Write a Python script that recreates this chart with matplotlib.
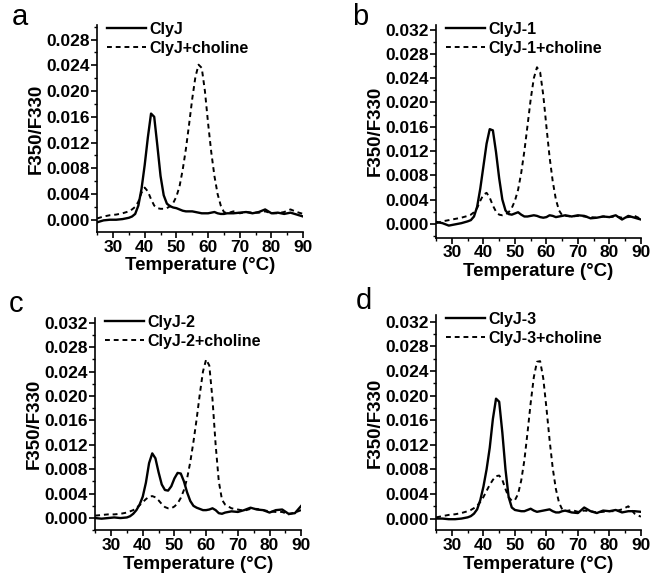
import matplotlib
matplotlib.use("Agg")
import matplotlib.pyplot as plt
from matplotlib.ticker import MultipleLocator, FormatStrFormatter

plt.rcParams['font.family'] = ['Liberation Sans', 'DejaVu Sans']

# temperature grid (deg C)
temps = [25, 27, 29, 31, 33, 35, 36, 37, 38, 39, 40, 41, 42, 43, 44, 45, 46, 47, 48, 49,
         50, 51, 52, 53, 54, 55, 56, 57, 58, 59, 60, 61, 62, 63, 64, 65, 66,
         68, 70, 72, 74, 76, 78, 80, 82, 84, 86, 88, 90]

clyj = [-0.0004, -0.0001, 0.0000, 0.0000, 0.0001, 0.0003, 0.0005, 0.0009, 0.0022, 0.0048,
        0.0085, 0.0128, 0.0165, 0.0160, 0.0115, 0.0068, 0.0038, 0.0025, 0.0021, 0.0019,
        0.0018, 0.0016, 0.0014, 0.0013, 0.0013, 0.0013, 0.0012, 0.0011, 0.0010, 0.0010,
        0.0010, 0.0011, 0.0012, 0.0010, 0.0009, 0.0009, 0.0010,
        0.0010, 0.0011, 0.0012, 0.0010, 0.0012, 0.0016, 0.0010, 0.0011, 0.0009, 0.0011, 0.0008, 0.0005]
clyj_ch = [0.0002, 0.0005, 0.0007, 0.0008, 0.0010, 0.0013, 0.0016, 0.0020, 0.0028, 0.0042,
           0.0050, 0.0044, 0.0032, 0.0022, 0.0018, 0.0017, 0.0017, 0.0018, 0.0021, 0.0026,
           0.0036, 0.0052, 0.0078, 0.0110, 0.0148, 0.0188, 0.0222, 0.0241, 0.0236, 0.0200,
           0.0150, 0.0105, 0.0068, 0.0040, 0.0022, 0.0012, 0.0010,
           0.0013, 0.0010, 0.0012, 0.0011, 0.0011, 0.0013, 0.0010, 0.0010, 0.0012, 0.0016, 0.0012, 0.0009]

clyj1 = [0.0003, 0.0001, -0.0003, -0.0001, 0.0001, 0.0004, 0.0006, 0.0012, 0.0028, 0.0058,
         0.0095, 0.0132, 0.0156, 0.0154, 0.0118, 0.0075, 0.0040, 0.0022, 0.0016, 0.0015,
         0.0017, 0.0019, 0.0015, 0.0012, 0.0012, 0.0013, 0.0014, 0.0013, 0.0011, 0.0010,
         0.0011, 0.0014, 0.0013, 0.0011, 0.0012, 0.0013, 0.0014,
         0.0012, 0.0014, 0.0013, 0.0009, 0.0010, 0.0012, 0.0011, 0.0014, 0.0007, 0.0013, 0.0010, 0.0007]
clyj1_ch = [0.0001, 0.0004, 0.0006, 0.0008, 0.0010, 0.0013, 0.0015, 0.0019, 0.0026, 0.0038,
            0.0048, 0.0051, 0.0043, 0.0030, 0.0020, 0.0015, 0.0014, 0.0015, 0.0019, 0.0026,
            0.0038, 0.0056, 0.0084, 0.0120, 0.0162, 0.0205, 0.0240, 0.0258, 0.0250, 0.0212,
            0.0160, 0.0110, 0.0070, 0.0040, 0.0022, 0.0014, 0.0013,
            0.0012, 0.0013, 0.0012, 0.0011, 0.0010, 0.0012, 0.0011, 0.0012, 0.0010, 0.0011, 0.0013, 0.0008]

clyj2 = [0.0000, -0.0001, 0.0000, 0.0001, 0.0000, 0.0001, 0.0003, 0.0007, 0.0013, 0.0022,
         0.0035, 0.0058, 0.0090, 0.0106, 0.0098, 0.0075, 0.0055, 0.0046, 0.0045, 0.0052,
         0.0065, 0.0074, 0.0073, 0.0060, 0.0042, 0.0028, 0.0020, 0.0017, 0.0015, 0.0013,
         0.0013, 0.0014, 0.0016, 0.0013, 0.0008, 0.0007, 0.0009,
         0.0011, 0.0010, 0.0013, 0.0017, 0.0014, 0.0013, 0.0009, 0.0013, 0.0014, 0.0007, 0.0008, 0.0020]
clyj2_ch = [0.0004, 0.0005, 0.0006, 0.0006, 0.0007, 0.0009, 0.0011, 0.0013, 0.0017, 0.0021,
            0.0026, 0.0031, 0.0035, 0.0036, 0.0034, 0.0029, 0.0023, 0.0018, 0.0016, 0.0016,
            0.0019, 0.0024, 0.0033, 0.0046, 0.0065, 0.0092, 0.0125, 0.0162, 0.0203, 0.0240,
            0.0260, 0.0250, 0.0195, 0.0120, 0.0060, 0.0030, 0.0022,
            0.0016, 0.0014, 0.0012, 0.0015, 0.0015, 0.0013, 0.0011, 0.0010, 0.0010, 0.0006, 0.0009, 0.0013]

clyj3 = [0.0000, 0.0000, -0.0001, -0.0001, 0.0000, 0.0002, 0.0004, 0.0008, 0.0015, 0.0030,
         0.0052, 0.0080, 0.0115, 0.0162, 0.0195, 0.0190, 0.0140, 0.0080, 0.0035, 0.0018,
         0.0014, 0.0013, 0.0012, 0.0012, 0.0014, 0.0016, 0.0013, 0.0011, 0.0012, 0.0013,
         0.0014, 0.0015, 0.0012, 0.0010, 0.0010, 0.0012, 0.0013,
         0.0010, 0.0009, 0.0018, 0.0012, 0.0009, 0.0013, 0.0012, 0.0014, 0.0010, 0.0012, 0.0012, 0.0011]
clyj3_ch = [0.0002, 0.0004, 0.0006, 0.0007, 0.0009, 0.0012, 0.0014, 0.0017, 0.0021, 0.0027,
            0.0035, 0.0045, 0.0055, 0.0063, 0.0069, 0.0070, 0.0063, 0.0048, 0.0035, 0.0029,
            0.0030, 0.0040, 0.0062, 0.0095, 0.0140, 0.0188, 0.0230, 0.0255, 0.0256, 0.0228,
            0.0180, 0.0128, 0.0082, 0.0048, 0.0026, 0.0015, 0.0012,
            0.0014, 0.0011, 0.0013, 0.0012, 0.0010, 0.0011, 0.0012, 0.0012, 0.0015, 0.0020, 0.0008, 0.0003]

panels = [
    ('a', 'ClyJ', clyj, clyj_ch, [0.149, 0.598, 0.316, 0.359], (-0.0019, 0.0303), 0.028),
    ('b', 'ClyJ-1', clyj1, clyj1_ch, [0.669, 0.588, 0.314, 0.369], (-0.0023, 0.0328), 0.032),
    ('c', 'ClyJ-2', clyj2, clyj2_ch, [0.146, 0.081, 0.316, 0.368], (-0.0020, 0.0328), 0.032),
    ('d', 'ClyJ-3', clyj3, clyj3_ch, [0.669, 0.081, 0.314, 0.373], (-0.0019, 0.0331), 0.032),
]
letter_pos = {'a': (0.018, 0.995), 'b': (0.540, 0.995), 'c': (0.014, 0.497), 'd': (0.545, 0.502)}

fig = plt.figure(figsize=(6.52, 5.77), dpi=100)

for letter, name, solid, dashed, rect, ylim, ytop in panels:
    ax = fig.add_axes(rect)
    ax.plot(temps, solid, color='black', lw=1.7, label=name)
    ax.plot(temps, dashed, color='black', lw=1.4, dashes=(2.5, 2), label=name + '+choline')
    ax.set_xlim(25, 90)
    ax.set_ylim(*ylim)
    ax.spines['top'].set_visible(False)
    ax.spines['right'].set_visible(False)
    for s in ('left', 'bottom'):
        ax.spines[s].set_linewidth(1.2)
    ax.xaxis.set_major_locator(MultipleLocator(10))
    ax.xaxis.set_minor_locator(MultipleLocator(5))
    ax.set_yticks([i * 0.004 for i in range(int(round(ytop / 0.004)) + 1)])
    ax.yaxis.set_minor_locator(MultipleLocator(0.002))
    ax.yaxis.set_major_formatter(FormatStrFormatter('%.3f'))
    ax.tick_params(which='major', direction='out', length=4, width=1.2, labelsize=12.5, pad=1.5)
    ax.tick_params(which='minor', direction='out', length=2.5, width=1.0)
    for lab in ax.get_xticklabels() + ax.get_yticklabels():
        lab.set_fontweight('bold')
    ax.set_xlabel('Temperature (°C)', fontsize=13.5, fontweight='bold', labelpad=2)
    ax.set_ylabel('F350/F330', fontsize=13.5, fontweight='bold', labelpad=1)
    ax.legend(loc='upper left', bbox_to_anchor=(0.05, 1.015), frameon=False,
              prop={'size': 11.5, 'weight': 'bold'}, handlelength=2.4,
              handletextpad=0.2, labelspacing=0.25, borderpad=0, borderaxespad=0)
    fig.text(letter_pos[letter][0], letter_pos[letter][1], letter, fontsize=21,
             va='top', ha='left')

fig.savefig('out.png', dpi=100)
